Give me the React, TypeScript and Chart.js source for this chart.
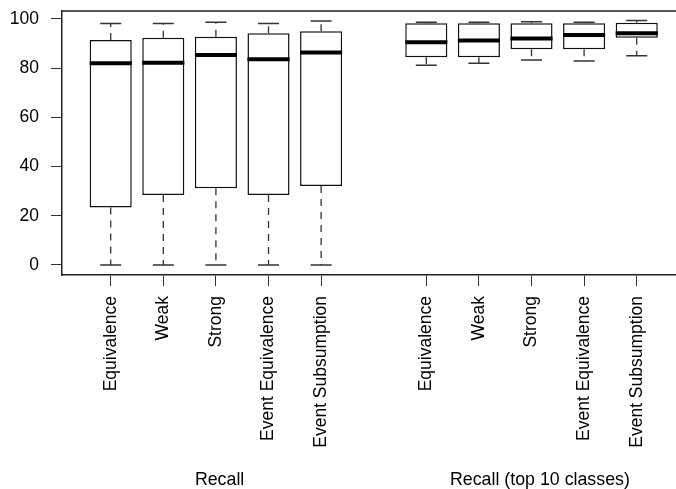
import React, { useEffect, useRef } from "react";
import { Chart, registerables } from "chart.js";
Chart.register(...registerables);

const categories = [
  "Equivalence", "Weak", "Strong", "Event Equivalence", "Event Subsumption",
  "Equivalence", "Weak", "Strong", "Event Equivalence", "Event Subsumption",
];
const positions = [1, 2, 3, 4, 5, 7, 8, 9, 10, 11];
const whiskerLow = [0, 0, 0, 0, 0, 81.2, 82.0, 83.3, 82.9, 85.1];
const q1 = [23.4, 28.5, 31.2, 28.5, 32.1, 84.4, 84.4, 87.7, 87.7, 92.4];
const medians = [82.0, 82.2, 85.4, 83.6, 86.4, 90.5, 91.3, 92.1, 93.5, 94.2];
const q3 = [91.5, 92.4, 92.8, 94.2, 95.0, 98.25, 98.25, 98.25, 98.25, 98.5];
const whiskerHigh = [98.2, 98.2, 98.65, 98.2, 99.2, 98.65, 98.65, 98.9, 98.65, 99.4];
const yTicks = [0, 20, 40, 60, 80, 100];
const groupLabels = ["Recall", "Recall (top 10 classes)"];
const groupCenters = [3.07, 9.16];

const FONT = "'Liberation Sans', Arial, Helvetica, sans-serif";

const boxPlugin = {
  id: "boxExtras",
  afterDatasetsDraw(chart: any) {
    const { ctx, chartArea } = chart;
    const x = chart.scales.x;
    const y = chart.scales.y;
    ctx.save();
    positions.forEach((p, i) => {
      const cx = x.getPixelForValue(p);
      const hw = x.getPixelForValue(p + 0.4) - cx;
      const cw = hw / 2;
      // dashed whiskers
      ctx.strokeStyle = "#333";
      ctx.lineWidth = 1.3;
      ctx.setLineDash([7, 6]);
      ctx.beginPath();
      ctx.moveTo(cx, y.getPixelForValue(q3[i]));
      ctx.lineTo(cx, y.getPixelForValue(whiskerHigh[i]));
      ctx.stroke();
      ctx.beginPath();
      ctx.moveTo(cx, y.getPixelForValue(q1[i]));
      ctx.lineTo(cx, y.getPixelForValue(whiskerLow[i]));
      ctx.stroke();
      ctx.setLineDash([]);
      // caps
      ctx.lineWidth = 1.5;
      ctx.beginPath();
      const yh = y.getPixelForValue(whiskerHigh[i]);
      const yl = y.getPixelForValue(whiskerLow[i]);
      ctx.moveTo(cx - cw, yh);
      ctx.lineTo(cx + cw, yh);
      ctx.moveTo(cx - cw, yl);
      ctx.lineTo(cx + cw, yl);
      ctx.stroke();
      // median
      ctx.strokeStyle = "#000";
      ctx.lineWidth = 4;
      ctx.beginPath();
      const ym = y.getPixelForValue(medians[i]);
      ctx.moveTo(cx - hw, ym);
      ctx.lineTo(cx + hw, ym);
      ctx.stroke();
    });
    // top frame line
    ctx.strokeStyle = "#222";
    ctx.lineWidth = 1.5;
    ctx.beginPath();
    ctx.moveTo(chartArea.left, chartArea.top);
    ctx.lineTo(chartArea.right, chartArea.top);
    ctx.stroke();
    // group labels
    ctx.fillStyle = "#000";
    ctx.font = `17.8px ${FONT}`;
    ctx.textAlign = "center";
    ctx.textBaseline = "alphabetic";
    groupLabels.forEach((g, i) => {
      ctx.fillText(g, x.getPixelForValue(groupCenters[i]), 485);
    });
    ctx.restore();
  },
};

export default function App() {
  const ref = useRef<HTMLCanvasElement | null>(null);
  useEffect(() => {
    if (!ref.current) return;
    const chart = new Chart(ref.current, {
      type: "bar",
      data: {
        datasets: [
          {
            data: positions.map((p, i) => ({ x: p, y: [q1[i], q3[i]] })) as any,
            backgroundColor: "#ffffff",
            borderColor: "#111",
            borderWidth: 1.5,
            borderSkipped: false,
            barPercentage: 0.8,
            categoryPercentage: 1.0,
          },
        ],
      },
      options: {
        animation: false,
        responsive: false,
        events: [],
        layout: { padding: { top: 11, left: 0, right: 0, bottom: 0 } },
        plugins: { legend: { display: false }, tooltip: { enabled: false } },
        scales: {
          x: {
            type: "linear",
            min: 0.074,
            max: 11.747,
            offset: false,
            grid: {
              offset: false,
              drawOnChartArea: false,
              drawTicks: true,
              tickLength: 11,
              color: "#333",
              lineWidth: 1,
            },
            border: { display: true, color: "#222", width: 1.5 },
            ticks: {
              autoSkip: false,
              minRotation: 90,
              maxRotation: 90,
              padding: 10,
              color: "#000",
              font: { size: 17.5, family: FONT },
              callback: (_v: any, i: number) => categories[i],
            },
            afterBuildTicks: (s: any) => {
              s.ticks = positions.map((v) => ({ value: v }));
            },
            afterFit: (s: any) => {
              s.height = 214;
              s.paddingLeft = 0;
              s.paddingRight = 0;
            },
          } as any,
          y: {
            type: "linear",
            min: -4.07,
            max: 103.25,
            grid: {
              drawOnChartArea: false,
              drawTicks: true,
              tickLength: 11,
              color: "#333",
              lineWidth: 1,
            },
            border: { display: true, color: "#222", width: 1.5 },
            ticks: {
              padding: 12,
              color: "#000",
              font: { size: 17.5, family: FONT },
            },
            afterBuildTicks: (s: any) => {
              s.ticks = yTicks.map((v) => ({ value: v }));
            },
            afterFit: (s: any) => {
              s.width = 62;
              s.paddingTop = 0;
              s.paddingBottom = 0;
            },
          } as any,
        },
      },
      plugins: [boxPlugin],
    });
    return () => chart.destroy();
  }, []);
  return (
    <div style={{ position: "absolute", left: 0, top: 0, width: 676, height: 489, background: "#fff" }}>
      <canvas ref={ref} width={676} height={489} style={{ display: "block" }} />
    </div>
  );
}
